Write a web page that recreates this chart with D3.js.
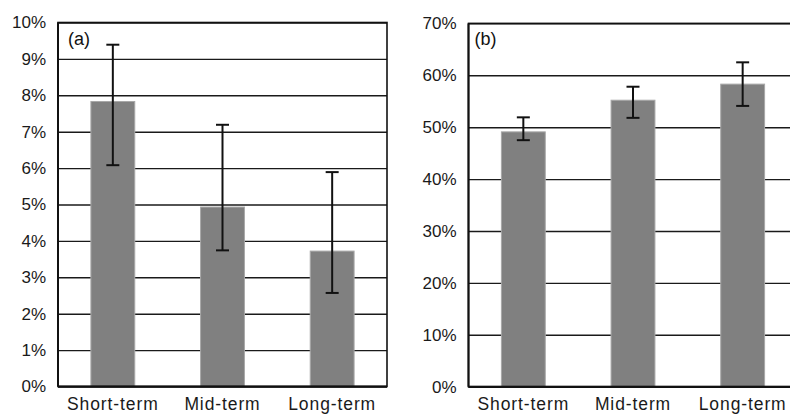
<!DOCTYPE html>
<html>
<head>
<meta charset="utf-8">
<script src="https://cdn.jsdelivr.net/npm/d3@7"></script>
<style>
  body { margin: 0; background: #fff; }
  svg { display: block; font-family: "Liberation Sans", Arial, sans-serif; }
</style>
</head>
<body>
<svg id="chart" width="790" height="414"></svg>
<script>
// categories
const categories = ['Short-term', 'Mid-term', 'Long-term']

// panel (a) : mean and error range, in %
const valuesA = [7.83, 4.93, 3.72]
const lowA = [6.08, 3.74, 2.57]
const highA = [9.39, 7.19, 5.89]
const ticksA = [0, 1, 2, 3, 4, 5, 6, 7, 8, 9, 10]

// panel (b)
const valuesB = [49.1, 55.2, 58.3]
const lowB = [47.5, 51.8, 54.1]
const highB = [51.9, 57.8, 62.5]
const ticksB = [0, 10, 20, 30, 40, 50, 60, 70]

const svg = d3.select('#chart')

/* dessine un panneau */
const drawPanel = (opt) => {
  const w = opt.right - opt.left
  const h = opt.bottom - opt.top
  const g = svg.append('g').attr('transform', `translate(${opt.left},${opt.top})`)

  const x = d3.scaleBand().domain(categories).range([0, w])
    .paddingInner(0.6).paddingOuter(0.3)
  const y = d3.scaleLinear().domain(opt.domain).range([h, 0])

  // grille + labels
  const yAxis = d3.axisLeft(y).tickValues(opt.ticks)
    .tickSize(-w).tickPadding(12).tickFormat(d => d + '%')
  const ga = g.append('g').call(yAxis)
  ga.select('.domain').remove()
  ga.selectAll('line').attr('stroke', '#1a1a1a').attr('stroke-width', 1.4)
  ga.selectAll('text').attr('fill', '#1a1a1a').style('font-size', '17px')
    .style('font-family', '"Liberation Sans", Arial, sans-serif')

  // barres
  g.selectAll('rect.bar').data(opt.values).enter().append('rect')
    .attr('class', 'bar')
    .attr('x', (d, i) => x(categories[i]))
    .attr('width', x.bandwidth())
    .attr('y', d => y(d))
    .attr('height', d => h - y(d))
    .attr('fill', '#808080')
    .attr('stroke', '#a8a8a8').attr('stroke-width', 1)

  // barres d'erreur
  const cap = 6.5
  opt.values.forEach((d, i) => {
    const cx = x(categories[i]) + x.bandwidth() / 2
    g.append('line').attr('x1', cx).attr('x2', cx)
      .attr('y1', y(opt.low[i])).attr('y2', y(opt.high[i]))
      .attr('stroke', '#111').attr('stroke-width', 2)
    ;[opt.low[i], opt.high[i]].forEach(v => {
      g.append('line').attr('x1', cx - cap).attr('x2', cx + cap)
        .attr('y1', y(v)).attr('y2', y(v))
        .attr('stroke', '#111').attr('stroke-width', 2)
    })
  })

  // cadre
  g.append('rect').attr('x', 0).attr('y', 0).attr('width', w).attr('height', h)
    .attr('fill', 'none').attr('stroke', '#111').attr('stroke-width', 1.6)
  g.append('line').attr('x1', 0).attr('x2', 0).attr('y1', 0).attr('y2', h)
    .attr('stroke', '#111').attr('stroke-width', 2)
  g.append('line').attr('x1', 0).attr('x2', w).attr('y1', h).attr('y2', h)
    .attr('stroke', '#111').attr('stroke-width', 2)

  // labels des catégories
  g.selectAll('text.cat').data(categories).enter().append('text')
    .attr('class', 'cat')
    .attr('x', d => x(d) + x.bandwidth() / 2)
    .attr('y', h + 23.5)
    .attr('text-anchor', 'middle')
    .attr('fill', '#1a1a1a')
    .style('font-size', '17.5px')
    .style('letter-spacing', '0.9px')
    .text(d => d)

  // (a) / (b)
  g.append('text').attr('x', opt.tagX).attr('y', 22)
    .attr('fill', '#111').style('font-size', '18px').text(opt.tag)
}

drawPanel({left: 58, right: 387, top: 22.5, bottom: 386.5, domain: [0, 10],
  ticks: ticksA, values: valuesA, low: lowA, high: highA, tag: '(a)', tagX: 10})
drawPanel({left: 468.5, right: 797.5, top: 23.4, bottom: 386.7, domain: [0, 70],
  ticks: ticksB, values: valuesB, low: lowB, high: highB, tag: '(b)', tagX: 6})
</script>
</body>
</html>
